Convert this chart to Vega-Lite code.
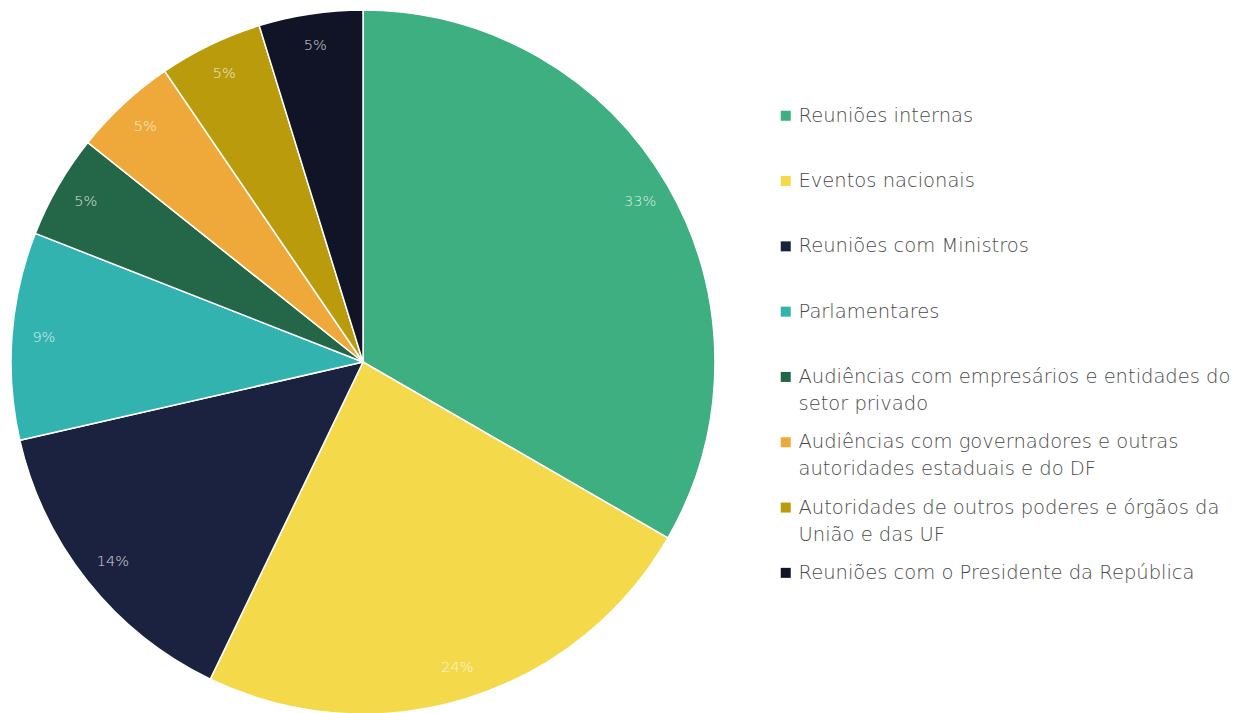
{
  "$schema": "https://vega.github.io/schema/vega-lite/v6.json",
  "width": 726,
  "height": 724,
  "padding": 0,
  "autosize": {"type": "pad"},
  "background": "white",
  "config": {
    "view": {"stroke": null},
    "style": {"guide-label": {"lineHeight": 27}}
  },
  "data": {
    "values": [
      {"cat": "Reuniões internas", "n": 7, "ord": 1, "pct": "33%"},
      {"cat": "Eventos nacionais", "n": 5, "ord": 2, "pct": "24%"},
      {"cat": "Reuniões com Ministros", "n": 3, "ord": 3, "pct": "14%"},
      {"cat": "Parlamentares", "n": 2, "ord": 4, "pct": "9%"},
      {"cat": "Audiências com empresários e entidades do|setor privado", "n": 1, "ord": 5, "pct": "5%"},
      {"cat": "Audiências com governadores e outras|autoridades estaduais e do DF", "n": 1, "ord": 6, "pct": "5%"},
      {"cat": "Autoridades de outros poderes e órgãos da|União e das UF", "n": 1, "ord": 7, "pct": "5%"},
      {"cat": "Reuniões com o Presidente da República", "n": 1, "ord": 8, "pct": "5%"}
    ]
  },
  "encoding": {
    "theta": {"field": "n", "type": "quantitative", "stack": true},
    "order": {"field": "ord", "type": "quantitative"}
  },
  "layer": [
    {
      "mark": {"type": "arc", "radius": 352, "stroke": "white", "strokeWidth": 1.5},
      "encoding": {
        "color": {
          "field": "cat",
          "type": "nominal",
          "scale": {
            "domain": [
              "Reuniões internas",
              "Eventos nacionais",
              "Reuniões com Ministros",
              "Parlamentares",
              "Audiências com empresários e entidades do|setor privado",
              "Audiências com governadores e outras|autoridades estaduais e do DF",
              "Autoridades de outros poderes e órgãos da|União e das UF",
              "Reuniões com o Presidente da República"
            ],
            "range": ["#3DAF80", "#F4D94B", "#1B2240", "#33B3B0", "#246748", "#EEA93A", "#B99B0C", "#101426"]
          },
          "legend": {
            "title": null,
            "orient": "none",
            "legendX": 776,
            "legendY": 106,
            "symbolType": "square",
            "symbolSize": 100,
            "symbolStrokeWidth": 0,
            "labelFont": "DejaVu Sans",
            "labelFontWeight": 200,
            "labelFontSize": 19.5,
            "labelColor": "#4a4a4a",
            "labelLimit": 500,
            "labelOffset": 3,
            "rowPadding": 17.3,
            "labelBaseline": "middle",
            "labelExpr": "indexof(datum.label, '|') >= 0 ? split(datum.label, '|') : [datum.label, ' ']"
          }
        }
      }
    },
    {
      "mark": {"type": "text", "radius": 320, "font": "DejaVu Sans", "fontWeight": 200, "fontSize": 14.5, "color": "white", "opacity": 0.8},
      "encoding": {
        "text": {"field": "pct", "type": "nominal"}
      }
    }
  ]
}
